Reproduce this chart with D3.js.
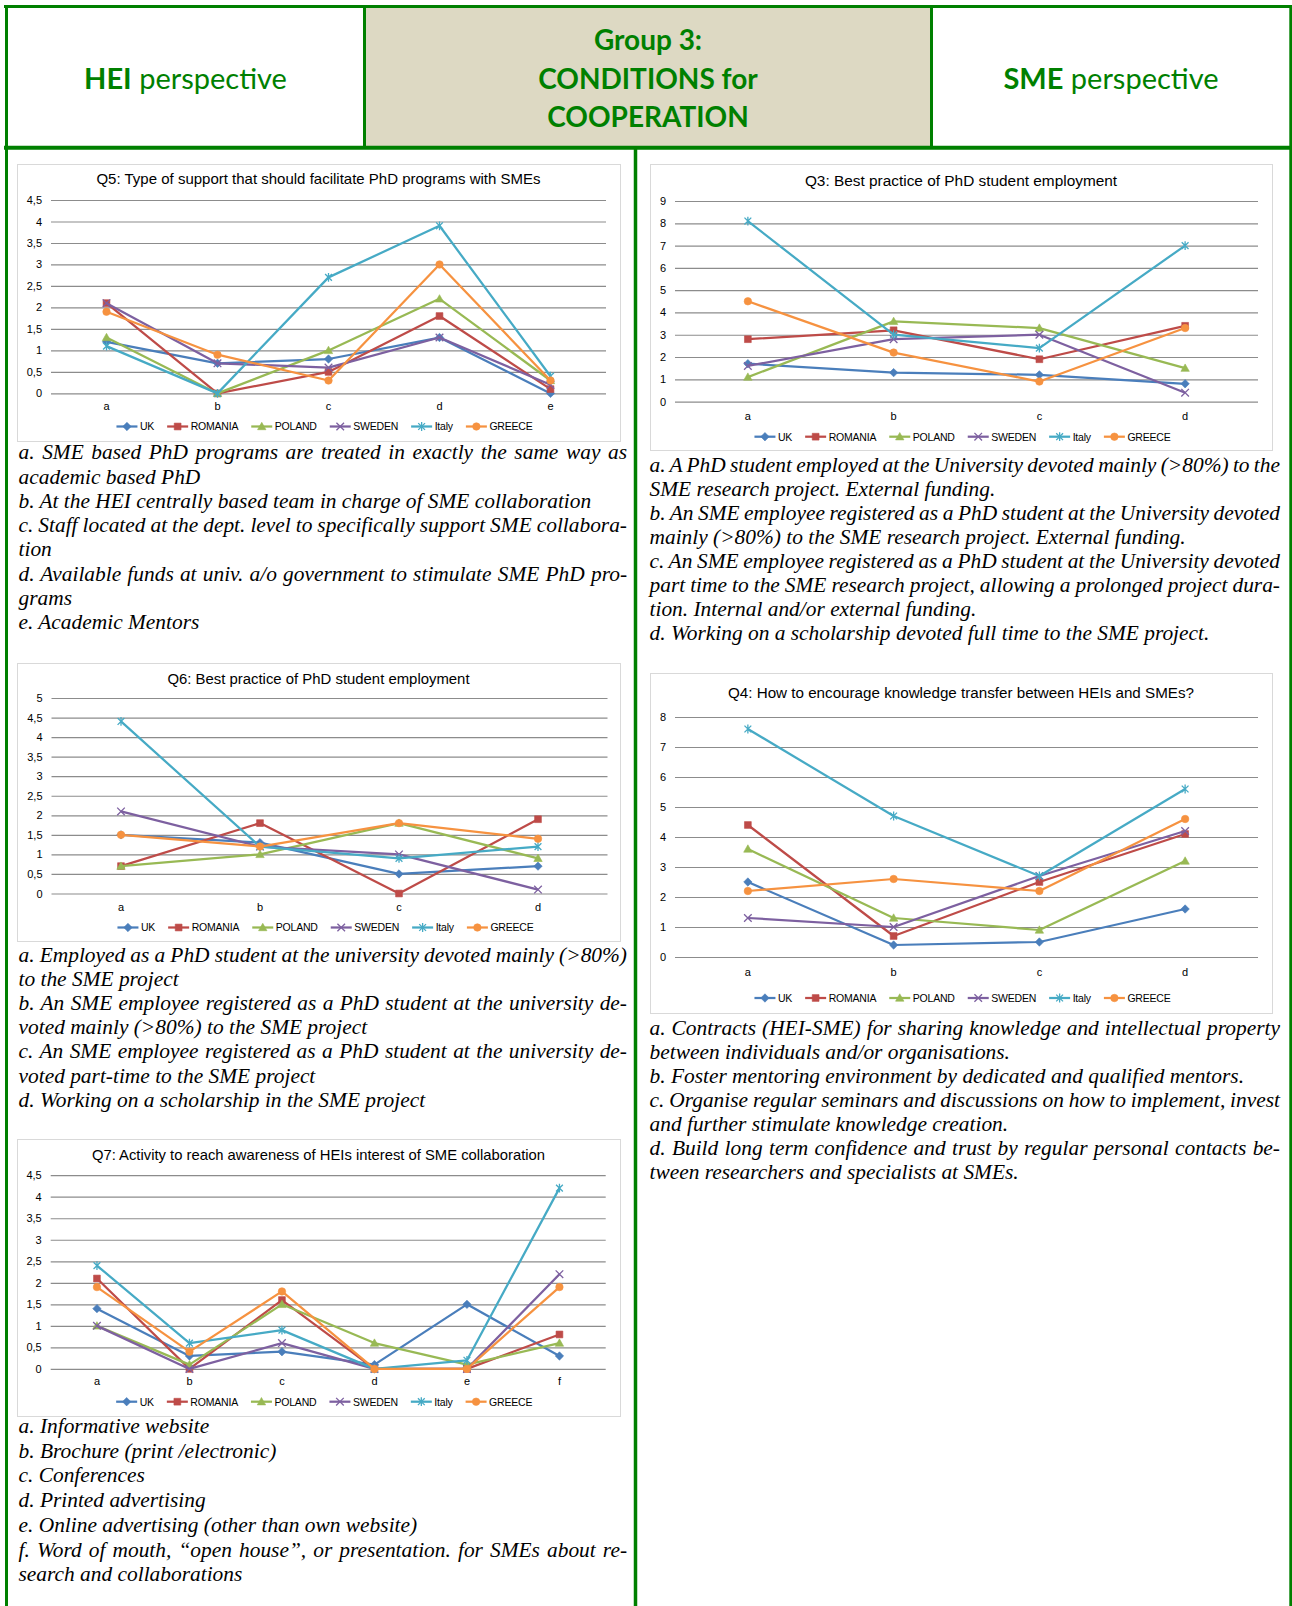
<!DOCTYPE html>
<html>
<head>
<meta charset="utf-8">
<script src="https://cdn.jsdelivr.net/npm/d3@7"></script>
<style>
  html, body { margin: 0; padding: 0; background: #fff; }
  svg { display: block; }
</style>
</head>
<body>
<svg id="page" width="1292" height="1606"></svg>
<script>
// ---------- data ----------
const seriesNames   = ["UK", "ROMANIA", "POLAND", "SWEDEN", "Italy", "GREECE"];
const seriesColors  = ["#4a7ebb", "#be4b48", "#98b954", "#7d60a0", "#46aac5", "#f69240"];
const seriesMarkers = ["diamond", "square", "triangle", "x", "star", "circle"];

// Q5 (HEI): type of support
const q5Categories = ["a", "b", "c", "d", "e"];
const q5Ticks = [0, 0.5, 1, 1.5, 2, 2.5, 3, 3.5, 4, 4.5];
const q5Values = [
  [1.2, 0.7, 0.8, 1.3, 0.0],  // UK
  [2.1, 0.0, 0.5, 1.8, 0.1],  // ROMANIA
  [1.3, 0.0, 1.0, 2.2, 0.3],  // POLAND
  [2.1, 0.7, 0.6, 1.3, 0.2],  // SWEDEN
  [1.1, 0.0, 2.7, 3.9, 0.4],  // Italy
  [1.9, 0.9, 0.3, 3.0, 0.3]   // GREECE
];

// Q6 (HEI): best practice of PhD student employment
const q6Categories = ["a", "b", "c", "d"];
const q6Ticks = [0, 0.5, 1, 1.5, 2, 2.5, 3, 3.5, 4, 4.5, 5];
const q6Values = [
  [1.5, 1.3, 0.5, 0.7],
  [0.7, 1.8, 0.0, 1.9],
  [0.7, 1.0, 1.8, 0.9],
  [2.1, 1.2, 1.0, 0.1],
  [4.4, 1.2, 0.9, 1.2],
  [1.5, 1.2, 1.8, 1.4]
];

// Q7 (HEI): awareness activities
const q7Categories = ["a", "b", "c", "d", "e", "f"];
const q7Ticks = [0, 0.5, 1, 1.5, 2, 2.5, 3, 3.5, 4, 4.5];
const q7Values = [
  [1.4, 0.3, 0.4, 0.1, 1.5, 0.3],
  [2.1, 0.0, 1.6, 0.0, 0.0, 0.8],
  [1.0, 0.1, 1.5, 0.6, 0.1, 0.6],
  [1.0, 0.0, 0.6, 0.0, 0.0, 2.2],
  [2.4, 0.6, 0.9, 0.0, 0.2, 4.2],
  [1.9, 0.4, 1.8, 0.0, 0.0, 1.9]
];

// Q3 (SME): best practice of PhD student employment
const q3Categories = ["a", "b", "c", "d"];
const q3Ticks = [0, 1, 2, 3, 4, 5, 6, 7, 8, 9];
const q3Values = [
  [1.7, 1.3, 1.2, 0.8],
  [2.8, 3.2, 1.9, 3.4],
  [1.1, 3.6, 3.3, 1.5],
  [1.6, 2.8, 3.0, 0.4],
  [8.1, 3.0, 2.4, 7.0],
  [4.5, 2.2, 0.9, 3.3]
];

// Q4 (SME): knowledge transfer
const q4Categories = ["a", "b", "c", "d"];
const q4Ticks = [0, 1, 2, 3, 4, 5, 6, 7, 8];
const q4Values = [
  [2.5, 0.4, 0.5, 1.6],
  [4.4, 0.7, 2.5, 4.1],
  [3.6, 1.3, 0.9, 3.2],
  [1.3, 1.0, 2.7, 4.2],
  [7.6, 4.7, 2.7, 5.6],
  [2.2, 2.6, 2.2, 4.6]
];

// Explanatory notes (each inner array is one paragraph, already broken into lines)
const q5Notes = [
  ["a. SME based PhD programs are treated in exactly the same way as", "academic based PhD"],
  ["b. At the HEI centrally based team in charge of SME collaboration"],
  ["c. Staff located at the dept. level to specifically support SME collabora-", "tion"],
  ["d. Available funds at univ. a/o government to stimulate SME PhD pro-", "grams"],
  ["e. Academic Mentors"]
];
const q6Notes = [
  ["a. Employed as a PhD student at the university devoted mainly (>80%)", "to the SME project"],
  ["b. An SME employee registered as a PhD student at the university de-", "voted mainly (>80%) to the SME project"],
  ["c. An SME employee registered as a PhD student at the university de-", "voted part-time to the SME project"],
  ["d. Working on a scholarship in the SME project"]
];
const q7Notes = [
  ["a. Informative website"],
  ["b. Brochure (print /electronic)"],
  ["c. Conferences"],
  ["d. Printed advertising"],
  ["e. Online advertising (other than own website)"],
  ["f. Word of mouth, \u201copen house\u201d, or presentation. for SMEs about re-", "search and collaborations"]
];
const q3Notes = [
  ["a. A PhD student employed at the University devoted mainly (>80%) to the", "SME research project. External funding."],
  ["b. An SME employee registered as a PhD student at the University devoted", "mainly (>80%) to the SME research project. External funding."],
  ["c. An SME employee registered as a PhD student at the University devoted", "part time to the SME research project, allowing a prolonged project dura-", "tion. Internal and/or external funding."],
  ["d. Working on a scholarship devoted full time to the SME project."]
];
const q4Notes = [
  ["a. Contracts (HEI-SME) for sharing knowledge and intellectual property", "between individuals and/or organisations."],
  ["b. Foster mentoring environment by dedicated and qualified mentors."],
  ["c. Organise regular seminars and discussions on how to implement, invest", "and further stimulate knowledge creation."],
  ["d. Build long term confidence and trust by regular personal contacts be-", "tween researchers and specialists at SMEs."]
];

// ---------- page ----------
const GREEN = "#008000";
const SANS = "'Liberation Sans', Arial, sans-serif";
const SERIF = "'Liberation Serif', 'Times New Roman', serif";
const HEAD = "Lato, 'Open Sans', sans-serif";

const svg = d3.select("#page");
svg.append("rect").attr("width", 1292).attr("height", 1606).attr("fill", "#fff");

// header cell shading
svg.append("rect").attr("x", 365).attr("y", 7).attr("width", 566).attr("height", 140).attr("fill", "#ddd9c3");

// table rules
const rules = svg.append("g").attr("stroke", GREEN).attr("fill", "none");
rules.append("line").attr("x1", 4).attr("x2", 1292).attr("y1", 6.5).attr("y2", 6.5).attr("stroke-width", 3);
rules.append("line").attr("x1", 4).attr("x2", 1292).attr("y1", 147.8).attr("y2", 147.8).attr("stroke-width", 4);
rules.append("line").attr("x1", 6.5).attr("x2", 6.5).attr("y1", 5).attr("y2", 1606).attr("stroke-width", 3);
rules.append("line").attr("x1", 1290.8).attr("x2", 1290.8).attr("y1", 5).attr("y2", 1606).attr("stroke-width", 3);
rules.append("line").attr("x1", 364.5).attr("x2", 364.5).attr("y1", 5).attr("y2", 148).attr("stroke-width", 3);
rules.append("line").attr("x1", 931.5).attr("x2", 931.5).attr("y1", 5).attr("y2", 148).attr("stroke-width", 3);
rules.append("line").attr("x1", 635.5).attr("x2", 635.5).attr("y1", 146).attr("y2", 1606).attr("stroke-width", 3.5);

// header texts
function headLabel(cx, baseline, bold, rest) {
  const t = svg.append("text").attr("x", cx).attr("y", baseline).attr("text-anchor", "middle")
    .attr("font-family", HEAD).attr("font-size", 29).attr("fill", GREEN);
  t.append("tspan").attr("font-weight", 700).text(bold);
  t.append("tspan").text(rest);
}
headLabel(185.5, 89, "HEI", " perspective");
headLabel(1111, 89, "SME", " perspective");
["Group 3:", "CONDITIONS for", "COOPERATION"].forEach((s, i) => {
  svg.append("text").attr("x", 648).attr("y", 50 + i * 38.5).attr("text-anchor", "middle")
    .attr("font-family", HEAD).attr("font-size", 28).attr("font-weight", 700).attr("fill", GREEN).text(s);
});

// ---------- markers ----------
function markerPath(kind) {
  switch (kind) {
    case "diamond":  return "M0,-4.2L4.2,0L0,4.2L-4.2,0Z";
    case "square":   return "M-3.4,-3.4H3.4V3.4H-3.4Z";
    case "triangle": return "M0,-4.2L4.2,3.2H-4.2Z";
    case "x":        return "M-3.8,-3.8L3.8,3.8M-3.8,3.8L3.8,-3.8";
    case "star":     return "M-3.4,-3.4L3.4,3.4M-3.4,3.4L3.4,-3.4M0,-4.4V4.4";
    default:         return d3.symbol(d3.symbolCircle, 44)();
  }
}
function styleMarker(sel, s) {
  const stroked = seriesMarkers[s] === "x" || seriesMarkers[s] === "star";
  sel.attr("d", markerPath(seriesMarkers[s]))
    .attr("fill", stroked ? "none" : seriesColors[s])
    .attr("stroke", seriesColors[s])
    .attr("stroke-width", stroked ? 1.3 : 0.6);
}

// ---------- line chart ----------
function drawChart(cfg) {
  const g = svg.append("g");
  g.append("rect")
    .attr("x", cfg.box[0] + 0.5).attr("y", cfg.box[1] + 0.5)
    .attr("width", cfg.box[2]).attr("height", cfg.box[3])
    .attr("fill", "#fff").attr("stroke", "#d9d9d9");

  g.append("text")
    .attr("x", (cfg.box[0] * 2 + cfg.box[2]) / 2).attr("y", cfg.titleY + cfg.titleSize * 0.36)
    .attr("text-anchor", "middle").attr("font-family", SANS).attr("font-size", cfg.titleSize)
    .attr("fill", "#000").text(cfg.title);

  const x = d3.scaleBand().domain(cfg.categories).range([cfg.x0, cfg.x1]);
  const xc = c => x(c) + x.bandwidth() / 2;
  const y = d3.scaleLinear().domain([0, cfg.yMax]).range([cfg.yZero, cfg.yTop]);

  const gy = g.append("g").attr("transform", `translate(${cfg.x0},0)`)
    .call(d3.axisLeft(y).tickValues(cfg.ticks).tickSize(-(cfg.x1 - cfg.x0)).tickPadding(9)
      .tickFormat(d => String(d).replace(".", ",")));
  gy.select(".domain").remove();
  gy.attr("font-family", SANS).attr("font-size", 11);
  gy.selectAll(".tick line").attr("stroke", "#8c8c8c").attr("stroke-width", 1.2);
  gy.selectAll(".tick text").attr("fill", "#000");

  const gx = g.append("g").attr("transform", `translate(0,${cfg.yZero})`)
    .call(d3.axisBottom(x).tickSize(0).tickPadding(cfg.xLabelY - cfg.yZero - 4));
  gx.select(".domain").remove();
  gx.attr("font-family", SANS).attr("font-size", 11);
  gx.selectAll(".tick text").attr("fill", "#000");

  const line = d3.line().x((d, i) => xc(cfg.categories[i])).y(d => y(d));
  cfg.values.forEach((vals, s) => {
    g.append("path").datum(vals).attr("d", line)
      .attr("fill", "none").attr("stroke", seriesColors[s]).attr("stroke-width", 2.25)
      .attr("stroke-linejoin", "round");
    g.selectAll(null).data(vals).join("path")
      .attr("transform", (d, i) => `translate(${xc(cfg.categories[i])},${y(d)})`)
      .call(styleMarker, s);
  });

  // legend
  const lg = g.append("g");
  let cx = 0;
  seriesNames.forEach((name, s) => {
    const item = lg.append("g").attr("transform", `translate(${cx},0)`);
    item.append("line").attr("x1", 0).attr("x2", 21).attr("y1", 0).attr("y2", 0)
      .attr("stroke", seriesColors[s]).attr("stroke-width", 2.25);
    item.append("path").attr("transform", "translate(10.5,0)").call(styleMarker, s);
    const t = item.append("text").attr("x", 23.5).attr("y", 3.8)
      .attr("font-family", SANS).attr("font-size", 10.5).attr("letter-spacing", -0.2)
      .attr("fill", "#000").text(name);
    cx += 23.5 + t.node().getComputedTextLength() + 13;
  });
  const total = cx - 13;
  lg.attr("transform", `translate(${(cfg.x0 + cfg.x1) / 2 - total / 2 - 4},${cfg.legendY})`);
}

// ---------- notes (justified except the last line of a paragraph) ----------
function drawNotes(paragraphs, x, width, firstBaseline, lineHeight) {
  const g = svg.append("g").attr("font-family", SERIF).attr("font-style", "italic")
    .attr("font-size", 21.4).attr("fill", "#000");
  let row = 0;
  paragraphs.forEach(lines => {
    lines.forEach((txt, i) => {
      const t = g.append("text").attr("x", x).attr("y", firstBaseline + row * lineHeight).text(txt);
      if (i < lines.length - 1) {
        const w = t.node().getComputedTextLength();
        const gaps = (txt.match(/ /g) || []).length;
        if (gaps) t.style("word-spacing", ((width - w) / gaps) + "px");
      }
      row++;
    });
  });
}

// ---------- HEI column ----------
drawChart({
  title: "Q5: Type of support that should facilitate PhD programs with SMEs", titleSize: 15,
  box: [17, 164, 603, 277], titleY: 179,
  categories: q5Categories, values: q5Values, ticks: q5Ticks, yMax: 4.5,
  x0: 51, x1: 606, yZero: 393.4, yTop: 200, xLabelY: 406.5, legendY: 426.5
});
drawNotes(q5Notes, 18.5, 608.5, 459.3, 24.25);

drawChart({
  title: "Q6: Best practice of PhD student employment", titleSize: 14.9,
  box: [17, 663, 603, 278], titleY: 678.3,
  categories: q6Categories, values: q6Values, ticks: q6Ticks, yMax: 5,
  x0: 51.5, x1: 607.5, yZero: 893.5, yTop: 698, xLabelY: 906.7, legendY: 927.5
});
drawNotes(q6Notes, 18.5, 608.5, 961.5, 24.2);

drawChart({
  title: "Q7: Activity to reach awareness of HEIs interest of SME collaboration", titleSize: 14.8,
  box: [17, 1139, 603, 277], titleY: 1155,
  categories: q7Categories, values: q7Values, ticks: q7Ticks, yMax: 4.5,
  x0: 50.7, x1: 605.7, yZero: 1368.9, yTop: 1175.2, xLabelY: 1381, legendY: 1401.7
});
drawNotes(q7Notes, 18.5, 608.5, 1433, 24.7);

// ---------- SME column ----------
drawChart({
  title: "Q3: Best practice of PhD student employment", titleSize: 15.4,
  box: [650, 164, 622, 286], titleY: 180,
  categories: q3Categories, values: q3Values, ticks: q3Ticks, yMax: 9,
  x0: 675, x1: 1258, yZero: 401.6, yTop: 201, xLabelY: 416, legendY: 436.7
});
drawNotes(q3Notes, 649.5, 630.5, 471.5, 24.05);

drawChart({
  title: "Q4: How to encourage knowledge transfer between HEIs and SMEs?", titleSize: 15.2,
  box: [650, 673, 622, 340], titleY: 692.6,
  categories: q4Categories, values: q4Values, ticks: q4Ticks, yMax: 8,
  x0: 675, x1: 1258, yZero: 957, yTop: 717, xLabelY: 972.5, legendY: 998
});
drawNotes(q4Notes, 649.5, 630.5, 1035, 24);
</script>
</body>
</html>
